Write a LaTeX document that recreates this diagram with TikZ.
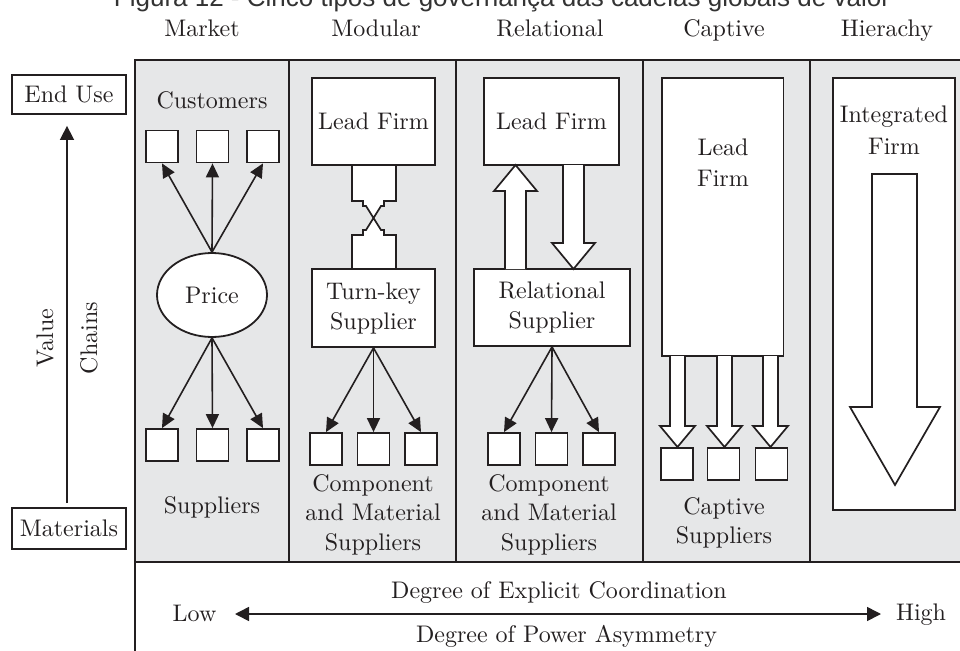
\documentclass[tikz,border=0pt]{standalone}
\usepackage{fontspec}
\setmainfont{lmroman10-regular}[Extension=.otf]
\newfontfamily\titlefont{Liberation Sans}
\usetikzlibrary{arrows.meta,shapes.geometric}
\definecolor{ink}{HTML}{231F20}
\definecolor{panel}{HTML}{E6E7E8}
\definecolor{titlegray}{HTML}{333333}
\begin{document}
\begin{tikzpicture}[x=1pt,y=-1pt,
  every node/.style={font=\fontsize{24}{30}\selectfont, text=ink},
  frame/.style={draw=ink,line width=2pt},
  wbox/.style={draw=ink,fill=white,line width=1.8pt,inner sep=0pt},
  sq/.style={wbox,minimum width=32pt,minimum height=32pt},
  lbl/.style={inner sep=0pt,anchor=base},
  arr/.style={draw=ink,line width=1.6pt,-{Triangle[length=14pt,width=13pt]}},
  darr/.style={draw=ink,line width=1.6pt,{Triangle[length=14pt,width=14pt]}-{Triangle[length=14pt,width=14pt]}},
  hollow/.style={draw=ink,fill=white,line width=1.7pt,line join=miter},
]
\path[use as bounding box, clip] (0,0) rectangle (960,650);

% caption (cut off at top)
\node[lbl, font=\titlefont\fontsize{26}{30}\selectfont, text=titlegray] (title) at (502,7)
  {Figura 12 - Cinco tipos de governança das cadeias globais de valor};

% panels
\fill[panel] (135,60) rectangle (964,562);
\draw[frame] (964,60) -- (135,60) -- (135,654);
\draw[frame] (135,562) -- (964,562);
\foreach \x in {289,456,643,810} \draw[frame] (\x,60) -- (\x,562);

% headers
\node[lbl] (hMarket) at (202,37) {Market};
\node[lbl] (hModular) at (376,37) {Modular};
\node[lbl] (hRelational) at (550,37) {Relational};
\node[lbl] (hCaptive) at (724,37) {Captive};
\node[lbl] (hHierachy) at (887,37) {Hierachy};

% left axis
\node[wbox, minimum width=114pt, minimum height=39pt] (enduse) at (69,94.5) {End Use};
\node[wbox, minimum width=114pt, minimum height=41pt] (materials) at (69,528.5) {Materials};
\draw[arr,-{Triangle[length=14pt,width=14pt]}] ([xshift=-2pt,yshift=4pt]materials.north) -- ([xshift=-2pt,yshift=-11pt]enduse.south);
\node[rotate=90,anchor=base,inner sep=0pt] (value) at (53,338) {Value};
\node[rotate=90,anchor=base,inner sep=0pt] (chains) at (97,338) {Chains};

% Market
\node[lbl] (customers) at (212,109) {Customers};
\node[sq] (mc1) at (162,146.5) {};
\node[sq] (mc2) at (212.5,146.5) {};
\node[sq] (mc3) at (263,146.5) {};
\node[wbox, ellipse, minimum width=110pt, minimum height=84pt] (price) at (212,295) {Price};
\node[sq] (ms1) at (162,445) {};
\node[sq] (ms2) at (212.5,445) {};
\node[sq] (ms3) at (263,445) {};
\foreach \i in {1,2,3} {
  \draw[arr] (price.north) -- (mc\i.south);
  \draw[arr] (price.south) -- (ms\i.north);
}
\node[lbl] (msup) at (212,513) {Suppliers};

% Modular
\path[hollow] (352,165) -- (352,201) -- (363,201) -- (363,206) -- (366,206) -- (373.5,218)
  -- (381,206) -- (384,206) -- (384,201) -- (396,201) -- (396,165);
\path[hollow] (352,269) -- (352,235) -- (363,235) -- (363,230) -- (366,230) -- (373.5,218)
  -- (381,230) -- (384,230) -- (384,235) -- (396,235) -- (396,269);
\node[wbox, minimum width=123pt, minimum height=87pt] (mlead) at (373.5,121.5) {Lead Firm};
\node[wbox, minimum width=123pt, minimum height=78pt, align=center] (turnkey) at (373.5,308) {Turn-key\\Supplier};
\node[sq] (mq1) at (326,449) {};
\node[sq] (mq2) at (373.5,449) {};
\node[sq] (mq3) at (421,449) {};
\foreach \i in {1,2,3} \draw[arr] (turnkey.south) -- (mq\i.north);
\node[lbl] (mcomp1) at (373,491) {Component};
\node[lbl] (mcomp2) at (373,520) {and Material};
\node[lbl] (mcomp3) at (373,550) {Suppliers};

% Relational
\node[wbox, minimum width=135pt, minimum height=87pt] (rlead) at (551.5,121.5) {Lead Firm};
\node[wbox, minimum width=156pt, minimum height=77pt, align=center] (rsup) at (552,307.5) {Relational\\Supplier};
\path[hollow] (505,269) -- (505,191) -- (494,191) -- (515.5,165) -- (537,191) -- (526,191) -- (526,269);
\path[hollow] (563,165) -- (563,243) -- (552,243) -- (573.5,269) -- (595,243) -- (584,243) -- (584,165);
\node[sq] (rq1) at (504,449) {};
\node[sq] (rq2) at (551.5,449) {};
\node[sq] (rq3) at (599,449) {};
\foreach \i in {1,2,3} \draw[arr] (rsup.south) -- (rq\i.north);
\node[lbl] (rcomp1) at (549,491) {Component};
\node[lbl] (rcomp2) at (549,520) {and Material};
\node[lbl] (rcomp3) at (549,550) {Suppliers};

% Captive
\node[wbox, minimum width=121.5pt, minimum height=278pt] (cfirm) at (722.75,217) {};
\node[lbl] (clead1) at (723,155) {Lead};
\node[lbl] (clead2) at (723,186) {Firm};
\foreach \c in {677.5,724.5,770.5}
  \path[hollow] ({\c-7.5},356) -- ({\c-7.5},426) -- ({\c-17.5},426) -- (\c,447)
    -- ({\c+17.5},426) -- ({\c+7.5},426) -- ({\c+7.5},356);
\node[sq] (cq1) at (677,464) {};
\node[sq] (cq2) at (723.5,464) {};
\node[sq] (cq3) at (771.5,464) {};
\node[lbl] (ccap1) at (724,514) {Captive};
\node[lbl] (ccap2) at (724,543) {Suppliers};

% Hierarchy
\node[wbox, minimum width=122pt, minimum height=432pt] (hfirm) at (894,294) {};
\node[lbl] (hint1) at (894,123) {Integrated};
\node[lbl] (hint2) at (894,154) {Firm};
\path[hollow] (872,174) -- (872,407) -- (850,407) -- (895,485) -- (940,407) -- (917,407) -- (917,174) -- cycle;

% bottom axis
\node[lbl] (coordtxt) at (559,598) {Degree of Explicit Coordination};
\node[lbl] (powertxt) at (566.5,642) {Degree of Power Asymmetry};
\node[lbl] (low) at (194.5,621) {Low};
\node[lbl] (high) at (921,620) {High};
\coordinate (lowtip) at (235,614);
\coordinate (hightip) at (881,614);
\draw[darr] (lowtip) -- (hightip);
\end{tikzpicture}
\end{document}
